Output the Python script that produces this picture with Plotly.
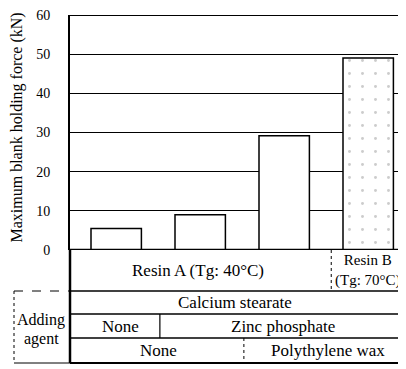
import plotly.graph_objects as go

categories = ["A-none", "A-zinc", "A-zinc-wax", "B-zinc-wax"]
forces = [5.5, 9.0, 29.2, 49.0]
y_ticks = [0, 10, 20, 30, 40, 50, 60]
y_title = "Maximum blank holding force (kN)"
resin_labels = ["Resin A (Tg: 40°C)", "Resin B<br>(Tg: 70°C)"]
agent_row1 = "Calcium stearate"
agent_row2 = ["None", "Zinc phosphate"]
agent_row3 = ["None", "Polythylene wax"]
side_label = ["Adding", "agent"]

FONT = "Liberation Serif, Times New Roman, DejaVu Serif, serif"
xs = list(range(len(categories)))

fig = go.Figure()
fig.add_trace(go.Bar(
    x=xs, y=forces, width=0.6,
    marker=dict(
        color="white",
        line=dict(color="black", width=1.5),
        pattern=dict(shape=["", "", "", "."], fgcolor="#999", bgcolor="white",
                     size=13, solidity=0.04),
    ),
    showlegend=False,
))

# page is offset by the 8px body margin; figure placed at (8, 8)
L, R = -0.55, 3.45
fig.update_layout(
    width=398, height=361,
    margin=dict(l=62, r=0, t=7, b=119),
    paper_bgcolor="white", plot_bgcolor="white",
    font=dict(family=FONT, color="black", size=14),
    xaxis=dict(range=[L, R], showticklabels=False, showgrid=False,
               zeroline=False, showline=False, fixedrange=True),
    yaxis=dict(range=[0, 60], tickvals=y_ticks, ticktext=[str(v) for v in y_ticks],
               showgrid=True, gridcolor="black", gridwidth=1,
               zeroline=False, showline=True, linecolor="black", linewidth=2,
               ticks="", tickfont=dict(size=14, family=FONT), ticklabelstandoff=15,
               ticklabeloverflow="allow", fixedrange=True),
)

fig.add_shape(type="line", xref="paper", yref="y", x0=0, x1=1, y0=60, y1=60,
              line=dict(color="black", width=2))
fig.add_shape(type="line", xref="paper", yref="y", x0=0, x1=1, y0=0, y1=0,
              line=dict(color="black", width=2.5))

H = 235.0
def py(pix):
    return (250 - pix) / H

def pxp(pix):
    return (pix - 70) / 336.0

rows = [250, 291, 314, 338, 363]
fig.add_shape(type="line", xref="paper", yref="paper", x0=0, x1=0,
              y0=py(rows[0]), y1=py(rows[-1]), line=dict(color="black", width=2.5))
for r in rows[1:]:
    fig.add_shape(type="line", xref="paper", yref="paper", x0=0, x1=1,
                  y0=py(r), y1=py(r),
                  line=dict(color="black", width=1.3 if r != rows[-1] else 2))
lx = pxp(14)
fig.add_shape(type="line", xref="paper", yref="paper", x0=lx, x1=0,
              y0=py(rows[1]), y1=py(rows[1]), line=dict(color="black", width=1, dash="dash"))
fig.add_shape(type="line", xref="paper", yref="paper", x0=lx, x1=0,
              y0=py(rows[-1]), y1=py(rows[-1]), line=dict(color="black", width=1))
fig.add_shape(type="line", xref="paper", yref="paper", x0=lx, x1=lx,
              y0=py(rows[1]), y1=py(rows[-1]), line=dict(color="black", width=1, dash="dot"))

fig.add_shape(type="line", xref="x", yref="paper", x0=2.56, x1=2.56,
              y0=py(rows[0]), y1=py(rows[1]), line=dict(color="black", width=1, dash="dot"))
fig.add_shape(type="line", xref="x", yref="paper", x0=0.52, x1=0.52,
              y0=py(rows[2]), y1=py(rows[3]), line=dict(color="black", width=1.2))
fig.add_shape(type="line", xref="x", yref="paper", x0=1.52, x1=1.52,
              y0=py(rows[3]), y1=py(rows[4]), line=dict(color="black", width=1, dash="dot"))

def cell(text, x, ypix, xref="x", size=17):
    fig.add_annotation(text=text, x=x, y=py(ypix), xref=xref, yref="paper",
                       showarrow=False, font=dict(family=FONT, size=size, color="black"),
                       xanchor="center", yanchor="middle")

def mid(a, b):
    return (a + b) / 2

cell(resin_labels[0], 0.97, mid(rows[0], rows[1]))
cell(resin_labels[1], 3.0, mid(rows[0], rows[1]), size=15)
cell(agent_row1, 0.49, mid(rows[1], rows[2]), xref="paper")
cell(agent_row2[0], 0.05, mid(rows[2], rows[3]))
cell(agent_row2[1], 1.98, mid(rows[2], rows[3]))
cell(agent_row3[0], 0.5, mid(rows[3], rows[4]))
cell(agent_row3[1], 2.52, mid(rows[3], rows[4]))
cell(side_label[0], pxp(41), 320, xref="paper", size=16)
cell(side_label[1], pxp(41), 339, xref="paper", size=16)

fig.add_annotation(text=y_title, x=pxp(16.5), y=py(128), xref="paper", yref="paper",
                   textangle=-90, showarrow=False, xanchor="center", yanchor="middle",
                   font=dict(family=FONT, size=16, color="black"))

fig.write_html("out.html")
